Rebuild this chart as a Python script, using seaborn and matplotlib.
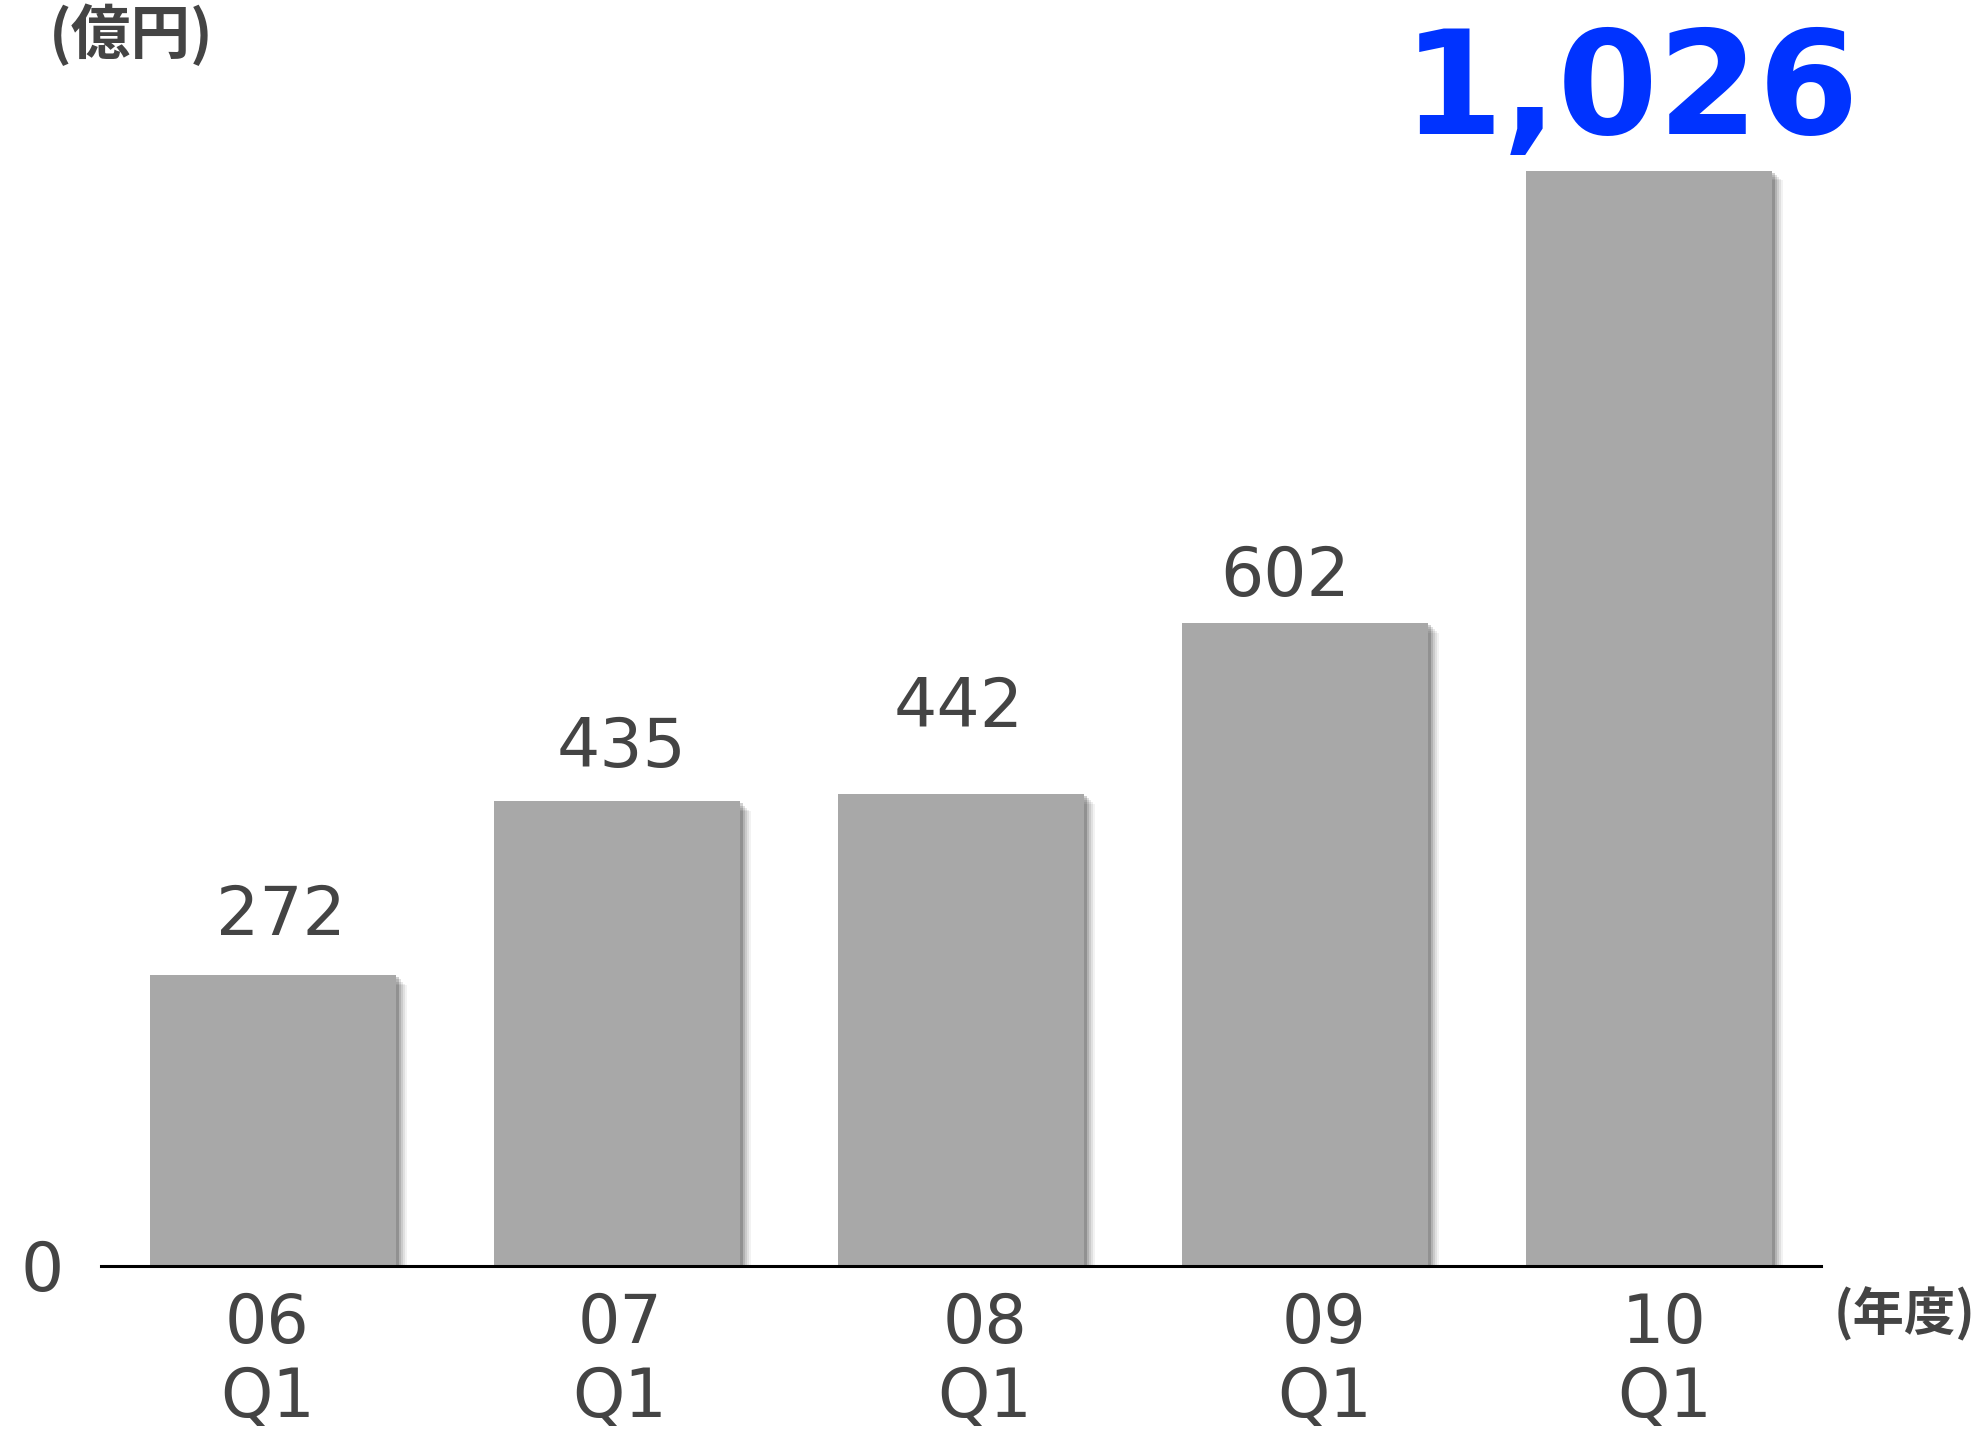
import matplotlib
matplotlib.use("Agg")
import matplotlib.pyplot as plt
import matplotlib.patheffects as pe
import matplotlib.transforms as mtransforms
import seaborn as sns
import pandas as pd

# ---- data ----
years = ["06", "07", "08", "09", "10"]
quarters = ["Q1", "Q1", "Q1", "Q1", "Q1"]
values = [272, 435, 442, 602, 1026]
value_labels = ["272", "435", "442", "602", "1,026"]
unit_label = "(億円)"
period_label = "(年度)"

# ---- layout (offsets in points, not data) ----
label_dx = [6, 3.6, -2, -14, -13]
label_dy = [29, 24.5, 48, 19.5, 26.6]
tick_dx = [-4, 2, 17, 14, 11]

sns.set_theme(style="white")
plt.rcParams["font.family"] = ["DejaVu Sans", "Noto Sans CJK JP"]

W, H, DPI = 1981, 1429, 100
fig = plt.figure(figsize=(W / DPI, H / DPI), dpi=DPI)
ax_left, ax_right = 101 / W, 1821 / W
ax_bottom = (H - 1265.5) / H
ax = fig.add_axes([ax_left, ax_bottom, ax_right - ax_left, 1 - ax_bottom])

df = pd.DataFrame({
    "cat": [f"{y}\n{q}" for y, q in zip(years, quarters)],
    "value": values,
})
sns.barplot(data=df, x="cat", y="value", color="#a8a8a8", saturation=1,
            width=0.715, ax=ax, linewidth=0)

shadow = [
    pe.SimplePatchShadow(offset=(8, -7), shadow_rgbFace="black", alpha=0.05),
    pe.SimplePatchShadow(offset=(6.5, -6), shadow_rgbFace="black", alpha=0.07),
    pe.SimplePatchShadow(offset=(5, -4.5), shadow_rgbFace="black", alpha=0.09),
    pe.SimplePatchShadow(offset=(3.5, -3), shadow_rgbFace="black", alpha=0.12),
    pe.SimplePatchShadow(offset=(2, -1.5), shadow_rgbFace="black", alpha=0.18),
    pe.Normal(),
]
for p in ax.patches:
    p.set_path_effects(shadow)

ax.set_xlim(-0.5, 4.5)
ax.set_ylim(0, 1186)

for s in ["top", "right", "left"]:
    ax.spines[s].set_visible(False)
ax.spines["bottom"].set_color("black")
ax.spines["bottom"].set_linewidth(2.2)
ax.spines["bottom"].set_zorder(5)

ax.set_xlabel("")
ax.set_ylabel("")
ax.set_yticks([0])
ax.set_yticklabels(["0"])
ax.tick_params(axis="y", length=0, pad=27, labelsize=49, labelcolor="#444444")
ax.tick_params(axis="x", length=0, pad=18, labelsize=48, labelcolor="#444444")
for t, dx in zip(ax.get_xticklabels(), tick_dx):
    t.set_linespacing(1.17)
    t.set_transform(t.get_transform() +
                    mtransforms.ScaledTranslation(dx / 72, 0, fig.dpi_scale_trans))
ax.grid(False)

text_color = "#444444"
for i, (v, lab) in enumerate(zip(values, value_labels)):
    big = i == len(values) - 1
    ax.annotate(lab, xy=(i, v), xytext=(label_dx[i], label_dy[i]),
                textcoords="offset points", ha="center", va="baseline",
                fontsize=104 if big else 49,
                fontweight="heavy" if big else "normal",
                family=["DejaVu Sans"],
                color="#0033ff" if big else text_color)

fig.text(131 / W, 1 - 4 / H, unit_label, ha="center", va="top",
         fontsize=43, fontweight="bold", color=text_color,
         family=["Noto Sans CJK JP", "DejaVu Sans"])
fig.text(1905 / W, 1 - 1314 / H, period_label, ha="center", va="center",
         fontsize=37, fontweight="bold", color=text_color,
         family=["Noto Sans CJK JP", "DejaVu Sans"])

fig.savefig("out.png", dpi=DPI, facecolor="white")
